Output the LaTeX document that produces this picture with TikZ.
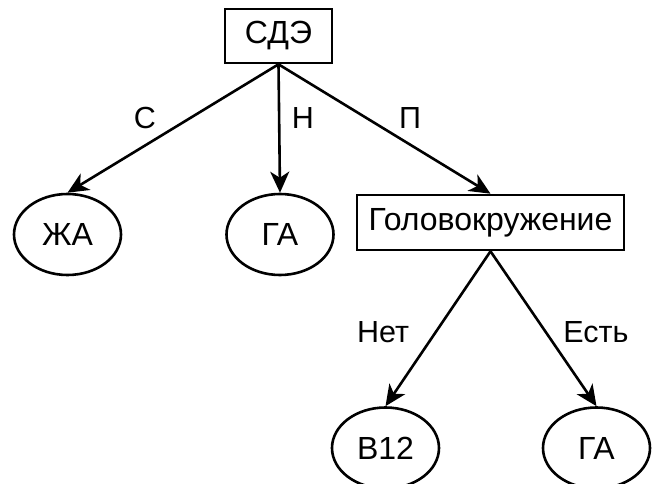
\documentclass[tikz,border=0pt]{standalone}
\usepackage{fontspec}
\setmainfont{Liberation Sans}
\usetikzlibrary{shapes.geometric,arrows.meta}
\begin{document}
\begin{tikzpicture}[x=1pt,y=-1pt,
  every node/.style={font=\fontsize{32}{38}\selectfont, inner sep=0pt},
  boxnode/.style={draw, line width=2.6pt, rectangle},
  leaf/.style={draw, line width=2.6pt, ellipse, minimum width=107pt, minimum height=81pt},
  edge/.style={line width=2.6pt, -{Stealth[length=21pt,width=19pt,inset=6pt]}},
  lbl/.style={font=\fontsize{30.5}{36}\selectfont}]
  \useasboundingbox (0,0) rectangle (657,484);
  % tree nodes
  \node[boxnode, minimum width=107pt, minimum height=54pt] (root) at (278.5,36) {СДЭ};
  \node[leaf] (zha) at (67.5,234.5) {ЖА};
  \node[leaf] (ga1) at (280,234.5) {ГА};
  \node[boxnode, minimum width=267pt, minimum height=55pt] (dizzy) at (490.5,222.5) {Головокружение};
  \node[leaf] (b12) at (385.5,448) {B12};
  \node[leaf] (ga2) at (596.5,448) {ГА};
  % connectors
  \draw[edge] (root.south) -- (zha.north);
  \draw[edge] (root.south) -- (ga1.north);
  \draw[edge] (root.south) -- (dizzy.north);
  \draw[edge] (dizzy.south) -- (b12.north);
  \draw[edge] (dizzy.south) -- (ga2.north);
  % branch labels
  \node[lbl] (lc) at (145,118) {С};
  \node[lbl] (ln) at (303,118) {Н};
  \node[lbl] (lp) at (410,118) {П};
  \node[lbl] (lno) at (383,332) {Нет};
  \node[lbl] (lyes) at (596,332) {Есть};
\end{tikzpicture}
\end{document}
